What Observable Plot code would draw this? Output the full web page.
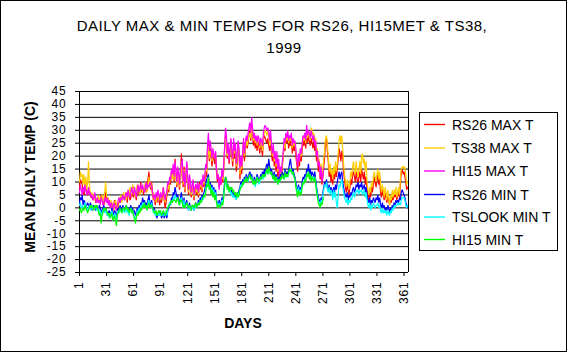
<!DOCTYPE html>
<html>
<head>
<meta charset="utf-8">
<script src="https://cdn.jsdelivr.net/npm/d3@7"></script>
<script src="https://cdn.jsdelivr.net/npm/@observablehq/plot@0.6"></script>
<style>
  html, body { margin: 0; padding: 0; background: #fff; }
  #chart { width: 568px; height: 354px; }
  svg { font-family: "Liberation Sans", Arial, sans-serif; }
</style>
</head>
<body>
<div id="chart"></div>
<script>
const title1 = "DAILY MAX & MIN TEMPS FOR RS26, HI15MET & TS38,";
const title2 = "1999";
const yTitle = "MEAN DAILY TEMP (C)";
const xTitle = "DAYS";
const seriesNames = ["RS26 MAX T", "TS38 MAX T", "HI15 MAX T", "RS26 MIN T", "TSLOOK MIN T", "HI15 MIN T"];
const seriesColors = ["#ff0000", "#ffcc00", "#ff00ff", "#0000ff", "#00ffff", "#00ff00"];
const xTicks = [1, 31, 61, 91, 121, 151, 181, 211, 241, 271, 301, 331, 361];
const yTicks = [-25, -20, -15, -10, -5, 0, 5, 10, 15, 20, 25, 30, 35, 40, 45];

const rs26Max = [
8,11,10,9,6,5,7,8,6,5, 7,6,5,4,4,3,5,4,2,3, 4,3,2,3,5,4,2,1,3,6,
4,2,3,1,2,0,1,-2,1,3, 2,0,-1,1,3,2,4,3,5,4, 3,5,4,2,6,5,3,4,6,5,
4,7,5,3,6,8,5,7,10,6, 8,5,7,9,6,8,11,14,9,7, 10,6,3,5,1,4,2,6,3,1,
4,2,5,7,3,0,2,5,8,6, 11,9,14,12,16,10,19,13,8,15, 10,7,14,21,12,8,16,6,11,17,
9,5,12,8,4,7,10,3,6,9, 5,8,4,10,7,9,6,11,8,10, 14,12,22,26,18,23,20,16,21,19,
17,20,14,10,12,8,11,9,13,10, 15,22,28,25,19,23,17,21,26,20, 16,24,19,22,14,18,25,21,11,17,
13,20,24,18,22,27,23,25,29,30, 26,32,28,24,27,23,25,22,26,24, 21,25,23,20,26,28,27,26,25,27,
24,22,26,21,18,23,16,20,14,19, 12,17,10,14,11,16,20,24,22,27, 25,28,23,26,24,27,21,25,22,24,
20,17,14,19,16,21,18,22,26,24, 27,23,29,25,28,26,24,27,25,23, 26,22,24,18,20,14,17,11,15,9,
12,16,20,26,27,22,18,12,15,10, 13,9,14,11,16,12,15,19,23,21, 18,22,20,14,11,8,6,9,7,5,
8,11,9,13,14,12,10,14,11,9, 12,14,10,15,13,11,14,9,12,7, 5,3,6,4,8,6,9,12,10,8,
11,13,9,12,6,4,7,5,3,6, 4,2,5,3,1,4,2,5,3,6, 4,6,3,5,7,4,9,14,15,13,
14,12,10,7,8
];
const ts38Max = [
10,14,12,13,9,13,8,12,7,10, 18,9,6,5,6,4,5,3,4,2, 3,5,2,4,3,5,2,4,6,10,
5,3,4,2,1,3,0,2,-1,2, 3,1,0,2,4,3,5,2,4,6, 4,6,3,5,7,4,8,6,5,9,
8,6,4,7,9,6,8,5,7,9, 6,8,7,10,8,6,9,12,8,10, 7,5,6,3,5,2,4,6,3,5,
3,4,6,8,4,2,4,6,9,7, 10,12,13,11,15,11,17,12,9,14, 11,8,13,18,14,9,15,7,12,16,
10,6,11,9,5,8,9,4,7,8, 6,9,5,9,8,10,7,12,9,11, 15,14,21,24,19,22,21,18,20,21,
19,21,16,12,13,9,12,10,14,11, 16,23,27,26,20,24,19,22,25,21, 18,25,21,23,16,20,24,22,13,18,
15,21,25,20,23,26,24,26,28,29, 27,31,29,26,28,25,27,24,27,26, 23,26,25,22,27,29,30,29,28,30,
27,24,28,23,20,24,18,21,16,20, 14,18,12,15,13,17,21,25,23,28, 26,29,25,27,26,28,23,26,24,25,
22,19,16,20,18,22,20,24,27,26, 28,25,30,27,29,28,26,31,30,28, 29,25,27,21,23,17,19,13,17,12,
15,19,23,27,28,24,20,14,17,13, 15,11,16,13,18,14,17,21,26,28, 25,28,23,17,13,10,8,11,9,7,
10,14,12,16,18,15,13,18,14,12, 15,18,13,20,21,17,19,14,18,10, 7,5,8,6,10,8,12,14,12,10,
13,15,11,14,9,6,9,7,4,8, 6,3,7,4,1,5,3,7,4,7, 5,8,4,6,8,5,11,15,16,16,
15,16,13,9,10
];
const hi15Max = [
6,9,7,5,8,6,9,7,5,6, 8,5,6,4,5,3,4,6,3,2, 4,2,3,1,4,3,1,2,4,3,
2,4,1,3,0,2,1,-1,2,1, 0,-1,1,3,4,2,4,3,5,4, 3,5,6,4,7,5,4,6,8,6,
5,8,6,4,7,9,6,8,9,7, 9,7,6,8,10,7,9,8,10,9, 8,6,4,5,3,6,4,7,5,3,
6,4,5,8,5,3,5,7,10,9, 12,11,15,13,17,12,18,14,10,16, 13,9,15,17,19,10,14,8,13,18,
12,7,13,10,6,9,11,5,8,9, 7,10,6,9,9,11,8,13,10,12, 17,15,24,29,22,26,23,19,23,21,
19,22,15,11,13,7,12,9,15,12, 17,24,31,28,21,25,18,23,27,22, 19,27,22,25,17,21,26,23,15,20,
16,22,27,21,25,28,26,29,31,33, 29,35,31,27,29,26,28,25,28,27, 24,27,26,24,29,31,32,31,30,31,
29,26,30,24,21,25,19,22,17,22, 15,19,11,16,14,18,22,27,25,29, 27,30,26,28,27,29,24,27,25,26,
23,19,16,21,18,23,21,25,28,27, 29,26,32,28,30,29,27,30,28,26, 28,24,26,20,22,16,18,12,16,10,
13,15
];
const rs26Min = [
2,4,3,5,1,3,2,0,1,2, 1,0,2,1,-1,0,1,0,-1,1, 0,-1,1,0,-2,-1,0,1,-1,0,
-1,-3,-2,-1,-3,-2,0,-3,-2,-1, -2,-4,-1,0,-1,1,0,-1,1,0, -1,0,1,-1,0,-2,0,1,-1,0,
-2,-1,-3,-2,0,-1,1,0,2,1, 4,2,3,1,2,0,3,5,2,1, 3,1,-1,0,-2,-3,-4,-2,-3,-1,
-2,-4,-3,-2,-4,-3,-2,-4,-1,0, 2,1,4,3,6,5,8,6,4,5, 3,2,4,6,3,1,4,0,2,3,
1,-1,2,0,-1,1,0,-1,1,2, 0,1,3,2,4,3,5,4,6,7, 9,11,12,13,8,10,7,9,6,8,
5,7,3,2,1,3,1,2,4,3, 6,10,12,11,8,9,7,8,6,7, 5,6,4,5,4,6,5,7,8,10,
9,11,10,12,11,13,12,11,13,14, 12,13,11,10,12,9,11,13,12,10, 11,13,12,14,12,15,13,16,17,15,
19,16,14,15,13,12,14,11,13,12, 10,12,11,13,12,14,13,12,15,13, 14,13,15,17,19,16,14,15,13,12,
10,8,7,9,6,8,7,10,12,11, 13,12,15,14,17,13,15,12,14,13, 12,14,11,8,6,4,3,2,4,3,
6,8,10,9,11,8,7,9,6,8, 7,5,8,6,9,7,10,12,14,11, 13,14,10,8,6,5,4,6,3,5,
4,6,5,7,8,6,7,9,8,10, 7,9,8,10,7,8,9,6,8,5, 3,2,4,1,3,2,4,3,2,4,
3,5,2,4,1,0,2,0,1,-1, 0,-1,1,0,-2,0,-1,1,0,2, 1,3,2,3,2,4,3,6,7,6,
5,4,2,1,0
];
const tslookMin = [
1,2,0,1,-1,0,2,1,0,-1, 0,1,-1,0,1,-1,0,1,0,-1, -1,0,-2,-1,-3,-2,-1,0,-2,-1,
-2,-3,-2,-4,-3,-2,-1,-4,-3,-2, -3,-5,-2,-1,-2,0,-1,-2,0,-1, -2,-1,0,-2,-1,-3,-1,0,-2,-1,
-3,-4,-4,-3,-1,-2,0,-1,1,0, 2,1,2,0,1,-1,2,3,1,0, 2,0,-2,-1,-3,-2,-3,-2,-3,-2,
-3,-3,-2,-3,-3,-2,-1,-3,0,1, 2,1,3,2,4,3,5,4,3,4, 2,1,3,4,2,0,3,0,1,2,
1,-1,1,0,-1,0,1,-1,0,1, 0,1,2,1,3,2,4,3,4,5, 7,9,10,11,7,8,6,8,5,7,
4,6,3,1,1,2,0,1,3,2, 5,8,10,10,7,8,6,7,5,6, 4,5,4,4,3,5,4,6,7,9,
8,10,9,11,10,12,11,10,12,12, 11,12,10,9,11,8,10,12,11,9, 10,12,11,13,11,13,12,14,14,13,
15,14,13,13,12,11,12,10,12,11, 9,11,10,11,11,12,12,11,13,12, 12,12,13,14,15,14,13,13,12,11,
9,7,6,8,5,7,6,9,10,10, 11,11,13,12,14,12,13,11,12,12, 11,12,10,7,5,3,2,1,3,2,
5,7,9,8,10,7,6,8,5,7, 6,3,7,4,6,2,0,5,9,8, 10,11,8,6,4,3,2,4,1,3,
2,4,3,5,6,4,5,7,6,7, 5,7,6,7,5,6,7,4,6,3, 1,0,2,-1,1,0,2,1,0,1,
1,2,0,1,-1,-2,0,-2,-1,-2, -1,-3,-1,-2,-3,-1,-2,0,-1,1, 0,1,1,2,1,2,1,3,4,4,
4,3,1,0,1
];
const hi15Min = [
-1,0,-2,-1,0,-1,1,0,-1,-2, -1,0,1,0,1,0,-1,1,0,1, 0,-1,-3,-2,-6,-3,-2,0,-1,0,
-1,-2,-3,-2,-4,-3,-2,-5,-4,-3, -5,-7,-3,-2,-1,0,-1,-2,0,0, -1,0,1,-1,0,-2,-1,0,-2,-1,
-3,-4,-6,-4,-2,-3,-1,-2,0,-1, 1,0,2,0,1,-1,1,2,0,1, 1,0,-1,-2,-2,-1,-3,-2,-1,-2,
-1,-3,-2,-1,-2,-3,-2,-1,0,1, 1,2,3,2,3,3,3,2,3,4, 2,1,3,3,2,0,1,0,1,2,
1,0,1,0,-1,1,1,0,1,2, 0,1,2,1,3,2,3,4,5,4, 6,9,8,12,7,9,5,7,4,6,
3,5,2,0,1,1,0,1,2,1, 4,9,12,11,7,9,6,8,7,8, 6,7,5,6,4,6,4,5,7,8,
8,10,9,11,10,12,10,11,12,13, 11,12,10,9,11,9,10,12,11,10, 11,12,11,13,12,13,12,14,15,13,
16,14,13,14,12,11,13,10,12,11, 9,11,10,12,11,13,12,11,14,12, 13,12,14,15,14,15,13,14,12,11,
8,6,4,7,5,6,5,8,10,9, 11,10,13,12,14,11,13,10,12,11, 10,12,9,6,4,2,1,0,2,1,
3,4
];

const seriesValues = [rs26Max, ts38Max, hi15Max, rs26Min, tslookMin, hi15Min];
const data = seriesNames.flatMap((name, s) =>
  seriesValues[s].map((v, i) => ({day: i + 1, temp: v, name})));

const W = 568, H = 354;
const mL = 79, mR = 160, mT = 91, mB = 82;

const chart = Plot.plot({
  width: W,
  height: H,
  marginLeft: mL,
  marginRight: mR,
  marginTop: mT,
  marginBottom: mB,
  style: {fontFamily: "Liberation Sans, Arial, sans-serif", background: "#fff", color: "#000"},
  x: {domain: [1, 366], label: null},
  y: {domain: [-25, 45], label: null},
  color: {domain: seriesNames, range: seriesColors},
  marks: [
    Plot.gridY(yTicks, {stroke: "#000", strokeOpacity: 1, strokeWidth: 1}),
    Plot.ruleX([1], {stroke: "#000"}),
    Plot.ruleX([366], {stroke: "#000"}),
    Plot.line(data, {x: "day", y: "temp", z: "name", stroke: "name", strokeWidth: 1.2, strokeLinejoin: "miter"}),
    Plot.axisY({ticks: yTicks, tickSize: 4, tickPadding: 9, fontSize: 12, label: null, tickFormat: d => String(d)}),
    Plot.axisX({ticks: xTicks, tickSize: 4, tickPadding: 5, tickRotate: -90, fontSize: 12, label: null, tickFormat: d => String(d)})
  ]
});

const svg = d3.select(chart);
svg.selectAll("g[aria-label='y-axis tick label'] text, g[aria-label='x-axis tick label'] text")
  .style("letter-spacing", "0.8px");

svg.append("rect").attr("x", 0.5).attr("y", 0.5).attr("width", W - 2).attr("height", H - 3)
  .attr("fill", "none").attr("stroke", "#000");

svg.append("text").attr("x", 282).attr("y", 31).attr("text-anchor", "middle")
  .attr("font-size", 15).style("letter-spacing", "0.5px").text(title1);
svg.append("text").attr("x", 284).attr("y", 53).attr("text-anchor", "middle")
  .attr("font-size", 15).style("letter-spacing", "0.5px").text(title2);
svg.append("text").attr("transform", "translate(35,177) rotate(-90)").attr("text-anchor", "middle")
  .attr("font-size", 14).attr("font-weight", "bold").text(yTitle);
svg.append("text").attr("x", 243).attr("y", 328).attr("text-anchor", "middle")
  .attr("font-size", 14).attr("font-weight", "bold").text(xTitle);

const lg = svg.append("g").attr("text-anchor", "start");
lg.append("rect").attr("x", 419.5).attr("y", 112.5).attr("width", 138).attr("height", 138)
  .attr("fill", "#fff").attr("stroke", "#000");
const lgY = [124.5, 148, 171, 194.5, 217, 239.5];
seriesNames.forEach((name, i) => {
  lg.append("line").attr("x1", 424).attr("x2", 445).attr("y1", lgY[i]).attr("y2", lgY[i])
    .attr("stroke", seriesColors[i]).attr("stroke-width", 1.4);
  lg.append("text").attr("x", 452).attr("y", lgY[i] + 5).attr("text-anchor", "start")
    .attr("font-size", 14).text(name);
});

document.getElementById("chart").appendChild(chart);
</script>
</body>
</html>
